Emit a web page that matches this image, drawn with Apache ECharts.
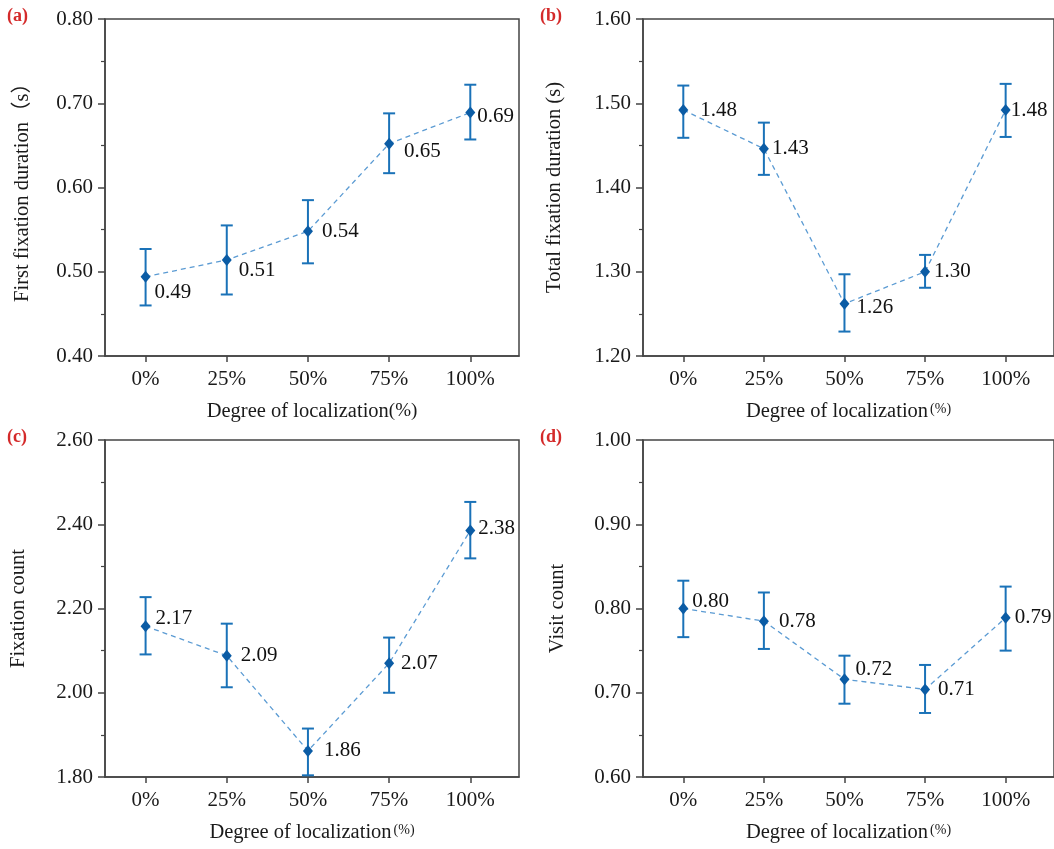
<!DOCTYPE html>
<html>
<head>
<meta charset="utf-8">
<script src="https://cdn.jsdelivr.net/npm/echarts@6/dist/echarts.min.js"></script>
<style>
html,body{margin:0;padding:0;background:#fff;}
#chart{width:1054px;height:849px;}
</style>
</head>
<body>
<div id="chart"></div>
<script>
// ---- data ----
const categories = [0, 25, 50, 75, 100];
const tickLabels = ['0%', '25%', '50%', '75%', '100%'];

const firstMean = [0.494, 0.514, 0.548, 0.652, 0.689];
const firstLow = [0.460, 0.473, 0.510, 0.617, 0.657];
const firstHigh = [0.527, 0.555, 0.585, 0.688, 0.722];
const firstLabels = ['0.49', '0.51', '0.54', '0.65', '0.69'];

const totalMean = [1.492, 1.446, 1.262, 1.300, 1.492];
const totalLow = [1.459, 1.415, 1.229, 1.281, 1.460];
const totalHigh = [1.521, 1.477, 1.297, 1.320, 1.523];
const totalLabels = ['1.48', '1.43', '1.26', '1.30', '1.48'];

const countMean = [2.158, 2.088, 1.862, 2.070, 2.385];
const countLow = [2.091, 2.013, 1.804, 2.000, 2.319];
const countHigh = [2.227, 2.164, 1.915, 2.131, 2.453];
const countLabels = ['2.17', '2.09', '1.86', '2.07', '2.38'];

const visitMean = [0.800, 0.785, 0.716, 0.704, 0.789];
const visitLow = [0.766, 0.752, 0.687, 0.676, 0.750];
const visitHigh = [0.833, 0.819, 0.744, 0.733, 0.826];
const visitLabels = ['0.80', '0.78', '0.72', '0.71', '0.79'];

// ---- layout / style config ----
const FONT = "'Liberation Serif', 'Times New Roman', serif";
const AXIS_COLOR = '#444444';
const MARK_COLOR = '#0b5ca5';
const BAR_COLOR = '#1a72b8';
const LINE_COLOR = '#5b9bd3';

const panels = [
  { tag: '(a)', mean: firstMean, low: firstLow, high: firstHigh, labels: firstLabels,
    yMin: 0.4, yMax: 0.8, yInt: 0.1, yName: 'First fixation duration（s）', yGap: 72,
    grid: { left: 105, top: 19 }, smallPct: false,
    labelOffsets: [[9, 16], [12, 11], [14, 0], [15, 8], [7, 4]] },
  { tag: '(b)', mean: totalMean, low: totalLow, high: totalHigh, labels: totalLabels,
    yMin: 1.2, yMax: 1.6, yInt: 0.1, yName: 'Total fixation duration (s)', yGap: 78,
    grid: { left: 643, top: 19 }, smallPct: true,
    labelOffsets: [[17, 0], [8, 0], [12, 4], [9, 0], [5, 0]] },
  { tag: '(c)', mean: countMean, low: countLow, high: countHigh, labels: countLabels,
    yMin: 1.8, yMax: 2.6, yInt: 0.2, yName: 'Fixation count', yGap: 76,
    grid: { left: 105, top: 440 }, smallPct: true,
    labelOffsets: [[10, -8], [14, 0], [16, 0], [12, 0], [8, -2]] },
  { tag: '(d)', mean: visitMean, low: visitLow, high: visitHigh, labels: visitLabels,
    yMin: 0.6, yMax: 1.0, yInt: 0.1, yName: 'Visit count', yGap: 75,
    grid: { left: 643, top: 440 }, smallPct: true,
    labelOffsets: [[9, -7], [15, 0], [11, -10], [13, 0], [9, 0]] }
];

const grids = [], xAxes = [], yAxes = [], series = [], graphics = [];

panels.forEach((p, i) => {
  grids.push({
    left: p.grid.left, top: p.grid.top, width: 414, height: 337,
    show: true, borderColor: AXIS_COLOR, borderWidth: 1.5, backgroundColor: 'transparent'
  });
  xAxes.push({
    gridIndex: i, type: 'value', min: -12.5, max: 115,
    splitLine: { show: false },
    axisLine: { show: true, onZero: false, lineStyle: { color: AXIS_COLOR, width: 1.5 } },
    axisTick: { show: true, inside: false, length: 6, customValues: categories,
      lineStyle: { color: AXIS_COLOR, width: 1.5 } },
    axisLabel: { show: true, customValues: categories, margin: 13,
      fontFamily: FONT, fontSize: 21, color: '#1a1a1a',
      formatter: (v) => tickLabels[categories.indexOf(v)] },
    name: p.smallPct ? '{t|Degree of localization}{p|(%)}' : '{t|Degree of localization}{q|(%)}',
    nameLocation: 'middle', nameGap: 45,
    nameTextStyle: {
      rich: {
        t: { fontFamily: FONT, fontSize: 20.5, color: '#1a1a1a' },
        p: { fontFamily: FONT, fontSize: 14, color: '#1a1a1a', padding: [0, 0, 4, 2] },
        q: { fontFamily: FONT, fontSize: 19, color: '#1a1a1a' }
      }
    }
  });
  yAxes.push({
    gridIndex: i, type: 'value', min: p.yMin, max: p.yMax, interval: p.yInt,
    splitLine: { show: false },
    axisLine: { show: true, onZero: false, lineStyle: { color: AXIS_COLOR, width: 1.5 } },
    axisTick: { show: true, inside: false, length: 7, lineStyle: { color: AXIS_COLOR, width: 1.5 } },
    minorTick: { show: true, splitNumber: 2, length: 4, lineStyle: { color: AXIS_COLOR, width: 1.2 } },
    axisLabel: { margin: 12, fontFamily: FONT, fontSize: 21, color: '#1a1a1a',
      formatter: (v) => v.toFixed(2) },
    name: p.yName, nameLocation: 'middle', nameGap: p.yGap,
    nameTextStyle: { fontFamily: FONT + ", 'Noto Sans CJK SC'", fontSize: 20.5, color: '#1a1a1a' }
  });

  const barData = categories.map((c, k) => [c, p.low[k], p.high[k]]);
  series.push({
    type: 'custom', xAxisIndex: i, yAxisIndex: i, z: 3,
    data: barData,
    renderItem: (params, api) => {
      const x = api.value(0);
      const lo = api.coord([x, api.value(1)]);
      const hi = api.coord([x, api.value(2)]);
      const hw = 6;
      const st = { stroke: BAR_COLOR, lineWidth: 2 };
      return {
        type: 'group',
        children: [
          { type: 'line', shape: { x1: lo[0], y1: lo[1], x2: hi[0], y2: hi[1] }, style: st },
          { type: 'line', shape: { x1: lo[0] - hw, y1: lo[1], x2: lo[0] + hw, y2: lo[1] }, style: st },
          { type: 'line', shape: { x1: hi[0] - hw, y1: hi[1], x2: hi[0] + hw, y2: hi[1] }, style: st }
        ]
      };
    }
  });

  series.push({
    type: 'line', xAxisIndex: i, yAxisIndex: i, z: 4,
    data: categories.map((c, k) => ({
      value: [c, p.mean[k]],
      label: { offset: [p.labelOffsets[k][0] - 5, p.labelOffsets[k][1]] }
    })),
    symbol: 'diamond', symbolSize: [10, 12],
    itemStyle: { color: MARK_COLOR },
    lineStyle: { color: LINE_COLOR, width: 1.3, type: [5, 4] },
    label: {
      show: true, position: 'right', distance: 0,
      fontFamily: FONT, fontSize: 21, color: '#111',
      formatter: (d) => p.labels[d.dataIndex]
    },
    emphasis: { disabled: true },
    animation: false
  });

  graphics.push({
    type: 'text', left: i % 2 === 0 ? 7 : 540, top: i < 2 ? 7 : 428,
    style: { text: p.tag, fontFamily: FONT, fontSize: 18, fontWeight: 'bold', fill: '#d42a2a' }
  });
});

const chart = echarts.init(document.getElementById('chart'), null, { renderer: 'canvas' });
chart.setOption({
  backgroundColor: '#ffffff',
  animation: false,
  grid: grids,
  xAxis: xAxes,
  yAxis: yAxes,
  series: series,
  graphic: graphics
});
</script>
</body>
</html>
